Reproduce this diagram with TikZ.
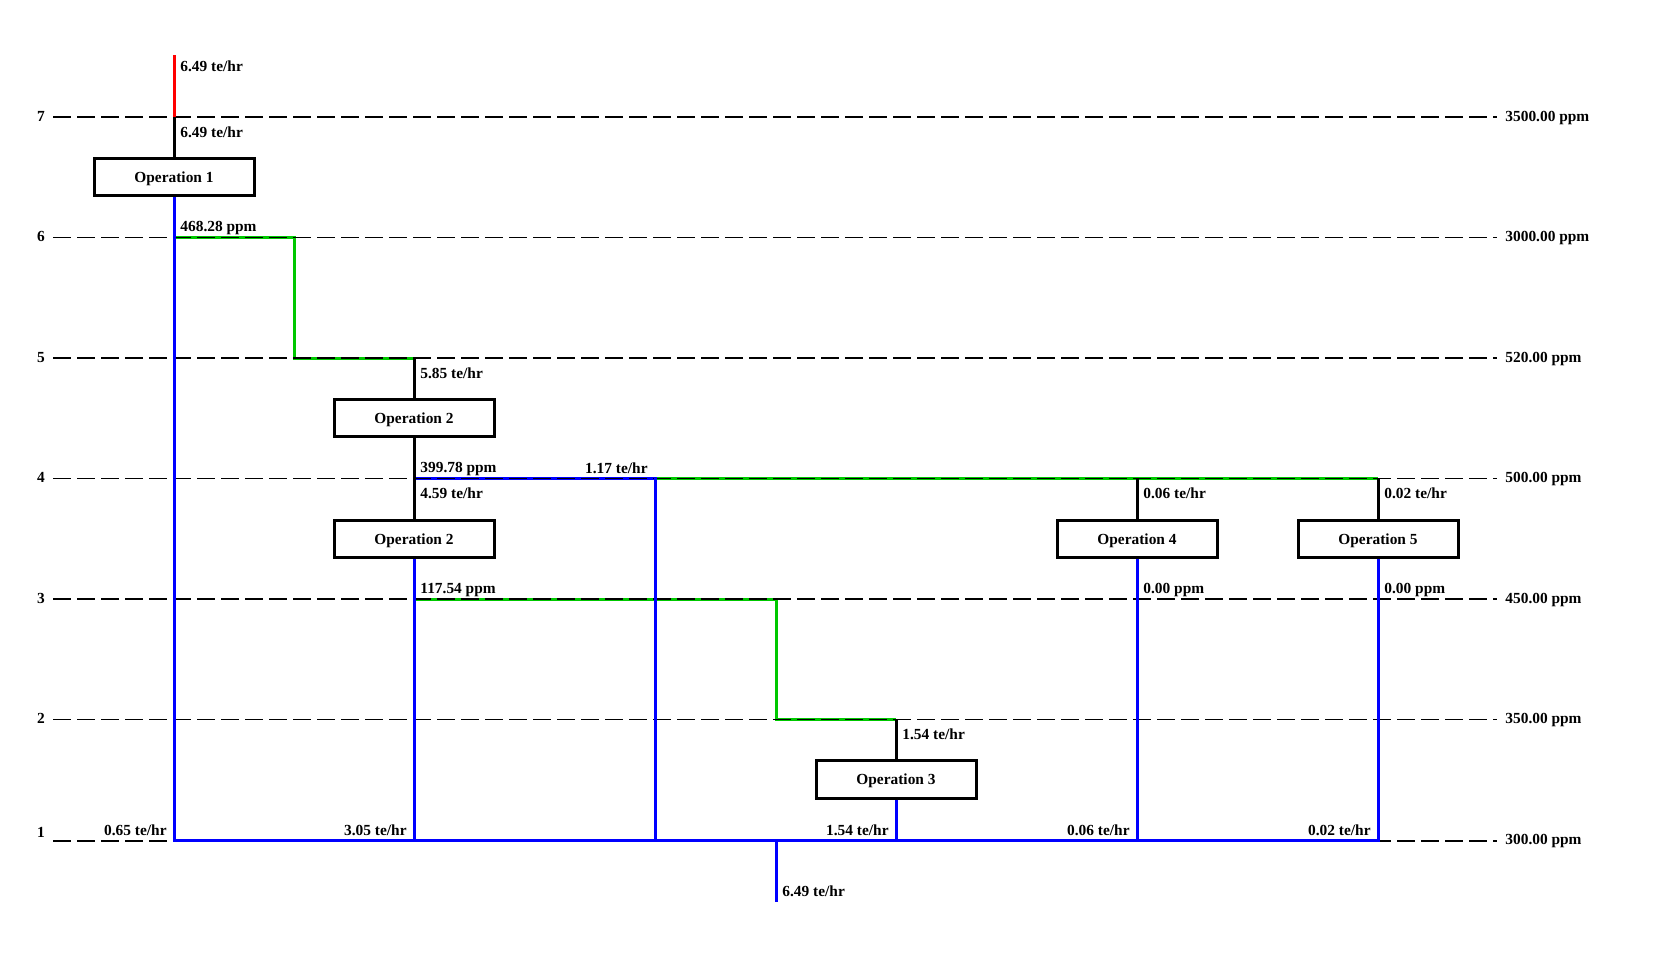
\documentclass[tikz,border=0pt]{standalone}
\usepackage{fontspec}
\setmainfont{Liberation Serif}
\definecolor{flowgreen}{RGB}{0,200,0}
\tikzset{pixgrid/.style={
  x=0.5pt,y=-0.5pt,line join=miter
},
  level/.style={black,line width=0.6pt,dash pattern=on 8.75pt off 3.25pt},
  stream/.style={line width=1.5pt},
  opbox/.style={draw,line width=1.5pt,fill=white,minimum width=80pt,minimum height=18.6pt,
    inner sep=0pt,text depth=0pt,font=\fontsize{7.7}{9}\selectfont\bfseries},
  tag/.style={inner sep=0pt,font=\fontsize{7.7}{9}\selectfont\bfseries},
  tagbr/.style={tag,anchor=base west,xshift=3pt,yshift=-10pt},
  tagar/.style={tag,anchor=base west,xshift=3pt,yshift=3pt},
  tagal/.style={tag,anchor=base east,xshift=-3.5pt,yshift=2.5pt}
}

\begin{document}
\begin{tikzpicture}[pixgrid]
  \useasboundingbox (0,0) rectangle (1677,969);
  % junctions: columns A..G, levels 1..7
  \coordinate (A0) at (174,55);
  \coordinate (A7) at (174,117);
  \coordinate (A6) at (174,237.5);
  \coordinate (A1) at (174,840);
  \coordinate (K6) at (294,237.5);
  \coordinate (K5) at (294,358);
  \coordinate (B5) at (414,358);
  \coordinate (B4) at (414,478.5);
  \coordinate (B3) at (414,599);
  \coordinate (B1) at (414,840);
  \coordinate (C4) at (655,478.5);
  \coordinate (C1) at (655,840);
  \coordinate (D3) at (776,599);
  \coordinate (D2) at (776,719.5);
  \coordinate (D1) at (776,840);
  \coordinate (D0) at (776,902);
  \coordinate (E2) at (896,719.5);
  \coordinate (E1) at (896,840);
  \coordinate (F4) at (1137,478.5);
  \coordinate (F3) at (1137,599);
  \coordinate (F1) at (1137,840);
  \coordinate (G4) at (1378,478.5);
  \coordinate (G3) at (1378,599);
  \coordinate (G1) at (1378,840);
  % operations
  \node[opbox] (op1) at (174,177) {Operation 1};
  \node[opbox] (op2a) at (414,418) {Operation 2};
  \node[opbox] (op2b) at (414,539) {Operation 2};
  \node[opbox] (op3) at (896,779.5) {Operation 3};
  \node[opbox] (op4) at (1137,539) {Operation 4};
  \node[opbox] (op5) at (1378,539) {Operation 5};
  % level 1 grid line lies under the main
  \draw[level] (53,841) -- (1497,841);
  \node[tag,anchor=base] (lv1) at (41,837) {1};
  \node[tag,anchor=base west] (ppm1) at (1505,844) {300.00 ppm};
  % horizontal streams
  \draw[stream,flowgreen] (A6) -- (K6) -- (K5) -- (B5);
  \draw[stream,flowgreen] (B3) -- (D3) -- (D2) -- (E2);
  \draw[stream,flowgreen] (C4) -- (G4);
  \draw[stream,blue] (B4) -- (C4);
  % grid lines
  \foreach \lv/\yy/\ppm in {7/117/3500.00,6/237.5/3000.00,5/358/520.00,
      4/478.5/500.00,3/599/450.00,2/719.5/350.00}{
    \draw[level] (53,\yy) -- (1497,\yy);
    \node[tag,anchor=base] (lv\lv) at (41,\yy+4) {\lv};
    \node[tag,anchor=base west] (ppm\lv) at (1505,\yy+4) {\ppm\ ppm};
  }
  % vertical streams
  \draw[stream,red] (A0) -- (A7);
  \draw[stream] (A7) -- (op1.north);
  \draw[stream] (B5) -- (op2a.north);
  \draw[stream] (op2a.south) -- (B4) -- (op2b.north);
  \draw[stream] (E2) -- (op3.north);
  \draw[stream] (F4) -- (op4.north);
  \draw[stream] (G4) -- (op5.north);
  \draw[stream,blue] (op1.south) -- (A1) -- (G1) -- (op5.south);
  \draw[stream,blue] (op2b.south) -- (B1);
  \draw[stream,blue,line cap=rect] (C4) -- (C1);
  \draw[stream,blue] (op3.south) -- (E1);
  \draw[stream,blue] (op4.south) -- (F1);
  \draw[stream,blue] (D1) -- (D0);
  % stream labels
  \node[tag,anchor=base west,xshift=3pt,yshift=-8pt] (q0) at (A0) {6.49 te/hr};
  \node[tagbr] (q1) at (A7) {6.49 te/hr};
  \node[tagar] (q2) at (A6) {468.28 ppm};
  \node[tagbr] (q3) at (B5) {5.85 te/hr};
  \node[tagar] (q4) at (B4) {399.78 ppm};
  \node[tagbr] (q5) at (B4) {4.59 te/hr};
  \node[tagal] (q6) at (C4) {1.17 te/hr};
  \node[tagbr] (q7) at (F4) {0.06 te/hr};
  \node[tagbr] (q8) at (G4) {0.02 te/hr};
  \node[tagar] (q9) at (B3) {117.54 ppm};
  \node[tagar] (q10) at (F3) {0.00 ppm};
  \node[tagar] (q11) at (G3) {0.00 ppm};
  \node[tagbr] (q12) at (E2) {1.54 te/hr};
  \node[tagal] (q13) at (A1) {0.65 te/hr};
  \node[tagal] (q14) at (B1) {3.05 te/hr};
  \node[tagal] (q15) at (E1) {1.54 te/hr};
  \node[tagal] (q16) at (F1) {0.06 te/hr};
  \node[tagal] (q17) at (G1) {0.02 te/hr};
  \node[tagar] (q18) at (D0) {6.49 te/hr};
\end{tikzpicture}
\end{document}
